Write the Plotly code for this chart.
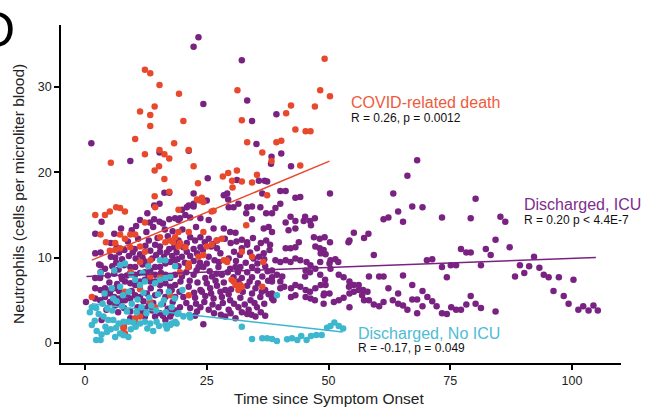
import plotly.graph_objects as go

# Neutrophil counts (cells per microliter blood) vs. days since symptom onset
death_pts = [
    (12.3, 32.0), (13.4, 31.6), (15.3, 30.2), (19.3, 29.2), (14.3, 27.7), (11.3, 27.1), (13.4, 26.7),
    (13.4, 25.4), (20.2, 26.0), (10.3, 23.9), (18.3, 23.4), (15.3, 22.6), (16.3, 22.1), (17.3, 21.6),
    (21.3, 22.6), (12.3, 22.1), (5.3, 21.1), (49.2, 33.3), (31.3, 29.6), (48.3, 29.6), (50.3, 28.9),
    (42.3, 27.8), (41.3, 26.9), (47.2, 27.7), (32.2, 26.1), (43.2, 25.0), (45.3, 24.8), (46.3, 24.8),
    (33.3, 23.5), (39.3, 23.5), (40.3, 23.7), (36.4, 22.3), (38.3, 21.3), (44.2, 20.8), (22.3, 20.7),
    (23.2, 18.7), (28.3, 19.5), (29.4, 19.9), (31.2, 20.2), (30.2, 19.0), (32.2, 18.9), (34.3, 18.8),
    (35.3, 19.7), (23.0, 16.8), (24.0, 17.0), (24.3, 16.5), (19.2, 15.6), (26.4, 15.5), (21.3, 13.0),
    (24.3, 13.0), (33.1, 13.8), (19.2, 11.3), (20.6, 11.2), (25.0, 11.3), (24.3, 10.3), (23.3, 10.1),
    (28.1, 12.2), (28.5, 9.7), (29.2, 9.5), (34.3, 10.1), (19.5, 8.3), (21.3, 9.3), (21.3, 5.6),
    (30.9, 6.8), (31.9, 6.8), (36.4, 6.6), (30.3, 18.2), (37.4, 17.3), (15.2, 20.7), (14.3, 20.2),
    (16.3, 19.2), (17.3, 17.7), (14.3, 17.2), (2.1, 15.0), (4.1, 15.0), (5.1, 15.4), (6.4, 15.9),
    (7.2, 15.8), (8.2, 15.4), (14.4, 15.9), (12.3, 14.1), (3.2, 12.7), (7.2, 12.7), (9.3, 12.7),
    (10.3, 12.7), (8.2, 12.2), (4.3, 11.8), (6.2, 11.7), (5.1, 10.8), (6.2, 10.9), (7.2, 11.1),
    (9.3, 11.2), (11.3, 11.3), (12.3, 10.7), (15.4, 12.4), (16.5, 11.8), (17.5, 12.0), (18.5, 12.4),
    (19.2, 13.0), (11.3, 9.5), (13.4, 9.7), (9.4, 8.3), (13.4, 7.8), (15.4, 7.8), (1.4, 5.4),
    (8.2, 6.0), (11.3, 6.3), (13.4, 4.8), (14.4, 4.2), (7.9, 1.7), (8.2, 1.1), (17.5, 5.6),
    (10.3, 2.9), (11.3, 3.1), (18.1, 11.8), (19.5, 11.7), (23.6, 16.7), (26.0, 15.4), (30.5, 7.2),
    (32.2, 10.7), (36.6, 9.5), (32.2, 6.6), (29.1, 9.7), (21.2, 8.9), (26.0, 11.5), (27.0, 12.0),
    (30.1, 7.4), (31.5, 6.2), (10.6, 2.3), (7.9, 1.9),
]

icu_pts = [
    (1.3, 23.4), (9.3, 21.3), (15.3, 22.3), (21.3, 22.5), (22.3, 34.7), (23.3, 35.8), (24.3, 28.0),
    (32.2, 33.1), (33.3, 28.4), (34.3, 26.0), (35.2, 23.3), (39.3, 26.8), (38.3, 21.8), (38.2, 21.0),
    (40.3, 22.2), (42.3, 20.7), (50.3, 17.5),
    (14.2, 16.1), (15.3, 16.3), (16.3, 17.6), (17.3, 17.6), (22.3, 17.5), (20.9, 15.9), (22.3, 16.0),
    (25.0, 16.7), (25.2, 19.3), (28.5, 17.3), (29.2, 17.5), (29.4, 16.8), (31.2, 19.1), (33.3, 15.9),
    (34.3, 16.0), (36.0, 15.9), (36.4, 17.5), (35.7, 19.0), (36.9, 19.0), (37.4, 18.9), (40.1, 17.8),
    (41.2, 17.8), (43.2, 17.0), (44.2, 17.1), (40.1, 16.3), (39.1, 15.8), (19.9, 15.6), (21.3, 16.1),
    (22.3, 16.3), (29.5, 15.9), (30.5, 15.9), (31.5, 16.3), (37.2, 15.2), (38.4, 15.2), (33.1, 15.2),
    (0.2, 4.8), (2.1, 12.8), (3.4, 14.2), (2.1, 10.5), (3.2, 10.6), (2.9, 9.2), (2.1, 6.4), (3.2, 6.2),
    (4.1, 5.4), (5.1, 5.8), (2.1, 5.2), (3.1, 5.0), (2.1, 7.6), (3.1, 7.6), (3.2, 9.1), (4.1, 8.7),
    (3.2, 8.3), (5.3, 11.7), (6.2, 10.0),
    (11.3, 14.4), (14.2, 14.5), (15.3, 14.2), (17.3, 14.5), (18.5, 14.6), (19.5, 14.6), (12.8, 15.2),
    (9.6, 13.2), (12.6, 13.0), (16.4, 13.3), (18.0, 13.1), (14.0, 13.6),
    (8.8, 11.9), (10.9, 12.2), (13.1, 12.0), (14.9, 12.3), (17.0, 12.5), (18.9, 11.9),
    (6.5, 11.2), (8.1, 10.9), (11.3, 10.4), (13.4, 10.8), (14.4, 11.5), (15.4, 11.3), (15.4, 10.7),
    (17.3, 11.0), (18.3, 11.2), (12.4, 11.4), (10.2, 11.0),
    (5.3, 10.1), (7.6, 9.8), (9.0, 10.2), (10.4, 9.9), (12.1, 9.6), (13.8, 9.9), (16.2, 10.1),
    (17.9, 10.2), (19.0, 9.8),
    (5.6, 9.0), (6.9, 8.6), (9.3, 8.9), (10.3, 8.9), (11.8, 9.2), (13.4, 8.5), (14.4, 8.9), (15.4, 8.9),
    (16.5, 9.3), (17.5, 9.5), (18.5, 9.7),
    (4.7, 7.9), (6.0, 8.1), (7.5, 7.8), (9.3, 8.2), (10.3, 8.0), (11.3, 8.2), (12.3, 8.3), (14.4, 8.0),
    (16.5, 8.0), (17.5, 7.6), (18.5, 8.0),
    (5.0, 7.1), (6.6, 6.9), (8.2, 7.2), (9.3, 7.0), (10.3, 6.8), (11.3, 7.2), (12.3, 7.4), (13.4, 7.2),
    (14.4, 7.2), (15.4, 6.8), (16.5, 7.0), (17.5, 6.6), (18.5, 6.8),
    (4.1, 6.4), (5.3, 6.2), (6.2, 6.4), (7.0, 6.1), (8.6, 5.7), (9.6, 6.1), (12.7, 5.8), (14.4, 5.6),
    (15.4, 6.0), (16.5, 5.4), (17.8, 6.2), (18.5, 5.4), (10.3, 5.6), (11.3, 5.4), (9.3, 5.2), (13.5, 6.4),
    (5.1, 4.8), (6.2, 4.4), (7.2, 4.6), (8.2, 5.0), (12.0, 4.9), (14.0, 4.7), (16.0, 4.6), (18.0, 4.8),
    (9.3, 3.7), (10.8, 4.2), (12.3, 4.0), (13.8, 3.8), (15.4, 3.5), (17.0, 4.0), (18.6, 3.8), (4.4, 3.9),
    (6.8, 3.6), (3.4, 2.7), (9.3, 2.9), (12.3, 3.1), (14.4, 3.1), (16.5, 2.7), (17.5, 3.1), (8.0, 1.9),
    (6.0, 12.8), (7.4, 13.4), (10.5, 13.7), (13.3, 14.1), (16.0, 14.0), (7.0, 10.6), (9.8, 10.6),
    (11.8, 10.0), (14.6, 10.3), (16.8, 10.6), (6.4, 9.4), (8.0, 9.1), (12.9, 9.1), (8.6, 7.9),
    (13.0, 8.0), (15.6, 8.2), (7.6, 7.5), (6.0, 5.4), (7.0, 5.2), (8.0, 4.1), (11.5, 3.5), (13.1, 4.4),
    (16.0, 3.2), (17.8, 3.5),
    (19.2, 12.0), (21.6, 12.4), (22.6, 12.0), (23.7, 12.4), (25.4, 12.2), (27.1, 12.0), (28.7, 12.2),
    (32.2, 12.1), (33.3, 11.8), (37.2, 12.0),
    (20.2, 11.2), (22.3, 11.0), (23.7, 11.2), (25.9, 11.3), (27.1, 11.1), (32.2, 11.1), (33.3, 11.5),
    (35.3, 11.1),
    (19.9, 10.1), (21.6, 10.2), (25.4, 10.1), (26.6, 9.7), (29.5, 9.9), (34.6, 9.9), (35.7, 10.1),
    (19.2, 9.0), (21.3, 8.9), (23.3, 8.9), (24.3, 8.9), (27.4, 8.9), (29.8, 8.7), (30.9, 8.9), (31.9, 8.9),
    (34.3, 8.9), (37.0, 9.0),
    (19.9, 7.8), (22.3, 8.0), (24.7, 7.6), (26.1, 7.8), (28.1, 8.0), (30.5, 7.7), (32.2, 7.6), (34.3, 7.7),
    (36.4, 7.8), (38.4, 7.7),
    (21.3, 6.6), (23.7, 6.2), (25.7, 6.4), (27.1, 6.7), (28.8, 6.2), (30.0, 6.3), (33.3, 6.7), (35.0, 6.4),
    (37.0, 6.2),
    (20.2, 5.4), (22.6, 5.3), (24.7, 5.5), (26.4, 5.2), (28.1, 5.4), (29.8, 5.0), (31.9, 5.3), (34.0, 5.0),
    (36.0, 5.4), (38.4, 5.2),
    (19.5, 4.2), (21.6, 4.1), (23.7, 4.2), (25.4, 3.9), (27.4, 4.2), (29.5, 3.9), (31.5, 4.2), (33.6, 3.9),
    (35.3, 4.2),
    (22.6, 3.2), (24.3, 2.2), (28.8, 3.1), (30.9, 2.9), (33.3, 3.4), (35.0, 3.1), (37.0, 3.2),
    (20.9, 11.7), (24.6, 11.8), (26.3, 11.6), (29.9, 11.7), (31.1, 11.9), (34.5, 12.3), (36.1, 11.7),
    (38.0, 11.5), (18.8, 10.6), (20.9, 10.7), (23.0, 10.5), (24.2, 10.9), (27.8, 10.5), (30.6, 10.7),
    (31.8, 10.3), (33.9, 10.6), (36.7, 10.5), (37.9, 10.9), (20.5, 9.4), (22.3, 9.6), (23.6, 9.4),
    (25.0, 9.3), (27.5, 9.5), (31.0, 9.6), (33.0, 9.4), (35.4, 9.3), (36.8, 9.8), (20.8, 8.3),
    (22.9, 8.5), (25.6, 8.4), (27.0, 8.1), (29.3, 8.3), (31.4, 8.3), (33.3, 8.3), (35.4, 8.5),
    (37.5, 8.4), (19.6, 7.2), (21.5, 7.3), (23.1, 7.1), (25.0, 7.0), (26.8, 7.3), (28.5, 7.1),
    (31.5, 7.2), (33.8, 7.2), (35.5, 7.0), (37.6, 7.3), (19.4, 6.0), (22.4, 5.9), (24.0, 6.0),
    (25.9, 5.8), (27.8, 6.0), (29.5, 5.7), (32.4, 6.0), (34.3, 5.8), (36.3, 6.0), (37.7, 5.7),
    (20.8, 4.7), (22.8, 4.6), (24.5, 4.8), (26.2, 4.5), (28.3, 4.7), (30.6, 4.6), (32.8, 4.5),
    (34.8, 4.7), (36.8, 4.6), (23.0, 3.7), (26.5, 3.5), (27.9, 3.3), (29.9, 3.5), (32.2, 3.6),
    (34.2, 3.3), (36.1, 3.6),
    (19.2, 14.4), (20.6, 15.0), (21.6, 14.7), (23.7, 14.6), (25.4, 14.4), (34.3, 14.5), (26.4, 13.4),
    (28.5, 13.4), (29.8, 13.0), (30.9, 12.9), (36.7, 13.4), (37.7, 13.6), (38.4, 13.0), (20.0, 13.3),
    (22.8, 13.6),
    (42.2, 14.8), (43.2, 14.3), (44.9, 14.3), (46.2, 14.3), (46.4, 13.8), (41.2, 14.1), (41.8, 13.2),
    (43.2, 13.4), (43.9, 11.8), (47.0, 12.4), (48.2, 12.2), (49.2, 12.4), (50.3, 11.8), (55.2, 12.9),
    (54.3, 12.0), (41.2, 11.1), (42.2, 11.1), (43.2, 11.2), (47.3, 11.3), (48.2, 11.1), (49.0, 10.9),
    (48.4, 10.5), (49.4, 10.4), (39.1, 9.7), (40.1, 9.5), (41.2, 9.7), (42.2, 9.5), (43.2, 9.9),
    (44.2, 9.7), (45.5, 9.5), (46.3, 9.1), (45.3, 8.5), (46.2, 8.3), (47.3, 8.7), (50.4, 9.7),
    (51.4, 9.8), (50.4, 8.7), (38.4, 8.5), (39.4, 8.0), (40.5, 7.8), (38.4, 7.2), (40.1, 7.2),
    (40.9, 6.6), (40.1, 6.4), (38.4, 5.8), (42.3, 6.4), (43.2, 6.8), (44.2, 6.6), (45.3, 6.2),
    (46.2, 6.0), (47.3, 6.4), (42.3, 5.4), (43.2, 5.6), (45.3, 5.4), (46.3, 5.2), (48.4, 6.8),
    (49.4, 6.8), (49.0, 4.6), (51.1, 4.8), (52.1, 5.0), (53.1, 5.3), (54.3, 5.8), (55.2, 6.0),
    (56.2, 6.2), (52.1, 8.0), (53.1, 7.7), (54.3, 7.2), (55.2, 6.8), (54.2, 6.6), (56.2, 6.8),
    (54.3, 4.2), (56.9, 5.6), (58.0, 6.0), (38.7, 5.0), (49.0, 5.6), (45.2, 14.8), (47.2, 14.6),
    (52.0, 9.5), (50.2, 9.3), (54.1, 11.8), (49.1, 5.8), (50.2, 5.8), (47.2, 5.0), (45.2, 7.8),
    (48.3, 8.0), (49.3, 7.4), (48.3, 9.5),
    (68.2, 21.4), (66.2, 19.6), (63.3, 17.5), (64.3, 15.4), (65.3, 14.2), (67.2, 16.0), (69.3, 15.9),
    (61.3, 14.5), (62.3, 14.7), (57.3, 12.3), (58.2, 12.8), (59.3, 10.3), (58.3, 7.8), (60.4, 7.8),
    (61.3, 7.8), (65.3, 7.9), (62.3, 6.4), (64.3, 5.8), (67.2, 6.8), (57.1, 6.2), (57.3, 5.0),
    (58.3, 5.0), (59.3, 4.5), (60.4, 4.3), (61.3, 4.8), (63.2, 5.0), (64.3, 4.6), (65.3, 4.4),
    (66.2, 3.9), (67.2, 5.1), (68.2, 5.1), (68.2, 3.5), (69.3, 6.1), (69.3, 4.3), (70.3, 5.4),
    (71.3, 4.9), (72.2, 4.3), (73.3, 3.5), (74.3, 3.4), (74.3, 7.7), (73.3, 8.9), (73.3, 14.7),
    (70.2, 9.7), (71.3, 9.8), (75.1, 9.1), (76.2, 9.1), (75.2, 4.2), (76.2, 3.9), (77.2, 3.9),
    (78.3, 4.5), (79.2, 5.5), (80.2, 4.6), (81.3, 4.1), (84.3, 3.7), (77.2, 11.0), (78.3, 10.6),
    (79.2, 10.6), (80.2, 16.9), (79.2, 14.6), (81.3, 9.1), (82.3, 11.0), (83.3, 10.3), (84.3, 12.1),
    (85.3, 14.8), (86.3, 14.2), (87.2, 11.2), (88.3, 7.8), (89.3, 9.1), (90.2, 8.2), (91.2, 9.0),
    (92.2, 10.1), (93.3, 8.8), (94.2, 8.0), (95.2, 7.7), (96.2, 6.1), (97.3, 7.7), (98.3, 5.5),
    (99.3, 4.6), (100.3, 7.4), (101.3, 3.9), (102.3, 4.3), (103.4, 3.8), (104.4, 4.4), (105.3, 3.8),
]

no_icu_pts = [
    (2.3, 0.35), (3.2, 0.35), (1.4, 4.2), (2.3, 4.1), (1.4, 2.1), (2.4, 1.4), (4.5, 1.3), (3.2, 8.2),
    (5.5, 6.4), (7.2, 6.6), (7.2, 9.1), (8.2, 9.3), (15.4, 9.7), (16.5, 9.7), (11.3, 6.8), (12.3, 7.2),
    (10.3, 7.4), (15.4, 7.4), (16.5, 7.6), (17.5, 7.8), (14.4, 7.0),
    (3.8, 3.1), (4.8, 2.7), (5.8, 2.7), (6.9, 2.3), (7.9, 2.5), (8.9, 2.5), (9.9, 2.4), (11.3, 2.3),
    (12.3, 2.5), (13.4, 2.3), (14.7, 2.5), (16.5, 2.1), (17.5, 2.1), (18.5, 2.5),
    (7.9, 0.9), (8.9, 0.7), (6.2, 0.7), (7.2, 1.1),
    (1.0, 3.6), (2.8, 3.4), (3.6, 4.6), (4.6, 4.0), (5.6, 3.8), (6.5, 4.9), (7.6, 4.3), (8.6, 3.7),
    (9.6, 4.6), (10.6, 3.6), (11.6, 4.2), (12.6, 3.5), (13.6, 4.4), (14.6, 3.8), (15.6, 4.5), (16.6, 3.6),
    (17.8, 4.2), (19.0, 3.4), (20.2, 3.1), (21.4, 3.3),
    (4.0, 5.8), (5.8, 5.2), (7.8, 5.6), (9.0, 6.0), (10.8, 5.1), (12.0, 5.9), (13.2, 5.3), (15.0, 5.7),
    (16.2, 5.0), (17.2, 6.0), (18.4, 5.2), (20.0, 6.2),
    (2.0, 2.6), (4.2, 1.9), (5.3, 1.6), (6.4, 1.8), (9.4, 1.6), (10.4, 1.9), (12.8, 1.7), (14.0, 1.4),
    (15.2, 2.0), (3.4, 1.0), (16.8, 1.7), (17.8, 2.3), (18.8, 2.3), (19.2, 3.5), (21.6, 3.0),
    (6.0, 8.5), (9.5, 8.0), (13.0, 9.0), (18.5, 9.0), (11.8, 8.2),
    (32.2, 1.9), (34.3, 0.47), (36.4, 0.55), (37.4, 0.55), (38.4, 0.47), (39.4, 0.23), (41.5, 0.43),
    (42.5, 0.55), (43.6, 0.35), (44.4, 0.82), (45.5, 0.35), (46.4, 0.82), (47.5, 0.94), (48.6, 0.94),
    (49.7, 1.8), (50.4, 2.0), (51.2, 2.4), (52.1, 2.0), (53.0, 1.7), (39.4, 5.6),
]

# Linear trend endpoints per outcome group
death_fit_x, death_fit_y = [1.4, 50.2], [9.7, 21.3]
icu_fit_x, icu_fit_y = [0.3, 104.9], [7.8, 10.0]
no_icu_fit_x, no_icu_fit_y = [1.4, 52.9], [4.6, 1.3]

x_ticks = [0, 25, 50, 75, 100]
y_ticks = [0, 10, 20, 30]

RED = "#E8482C"
PURPLE = "#7A2282"
CYAN = "#3DB7CE"
FONT = "Liberation Sans, Arial, sans-serif"
TEXT = "#222222"

fig = go.Figure()


def add_points(pts, color, name):
    xs = [p[0] for p in pts]
    ys = [p[1] for p in pts]
    fig.add_trace(go.Scatter(x=xs, y=ys, mode="markers", name=name,
                             marker=dict(size=6.5, color=color, line=dict(width=0)),
                             showlegend=False, hoverinfo="x+y"))


add_points(icu_pts, PURPLE, "Discharged, ICU")
add_points(death_pts, RED, "COVID-related death")
add_points(no_icu_pts, CYAN, "Discharged, No ICU")

for fx, fy, c in [(death_fit_x, death_fit_y, RED),
                  (icu_fit_x, icu_fit_y, PURPLE),
                  (no_icu_fit_x, no_icu_fit_y, CYAN)]:
    fig.add_trace(go.Scatter(x=fx, y=fy, mode="lines", line=dict(color=c, width=1.5),
                             showlegend=False, hoverinfo="skip"))

labels = [
    (54.2, 28.2, "COVID-related death", "#EE5A3D", 16),
    (54.2, 26.3, "R = 0.26, p = 0.0012", "#111111", 12),
    (89.7, 16.2, "Discharged, ICU", "#7E2C8C", 16),
    (89.7, 14.4, "R = 0.20 p < 4.4E-7", "#111111", 12),
    (55.7, 1.15, "Discharged, No ICU", "#4DBCD4", 16),
    (55.7, -0.6, "R = -0.17, p = 0.049", "#111111", 12),
]
annotations = []
for x, y, t, c, s in labels:
    annotations.append(dict(x=x, y=y, xref="x", yref="y", text=t, showarrow=False,
                            xanchor="left", yanchor="middle",
                            font=dict(family=FONT, size=s, color=c)))

# axis titles
annotations.append(dict(x=0.4786, y=-0.1065, xref="paper", yref="paper",
                        text="Time since Symptom Onset", showarrow=False,
                        xanchor="center", yanchor="middle",
                        font=dict(family=FONT, size=15.5, color=TEXT)))
annotations.append(dict(x=-0.077, y=0.5, xref="paper", yref="paper",
                        text="Neutrophils (cells per microliter blood)", showarrow=False,
                        textangle=-90, xanchor="center", yanchor="middle",
                        font=dict(family=FONT, size=15.5, color=TEXT)))

# panel letter
annotations.append(dict(x=-0.079, y=0.985, xref="paper", yref="paper", text="D",
                        showarrow=False, xanchor="right", yanchor="middle",
                        font=dict(family=FONT, size=50, color="#000000")))

axis_common = dict(showgrid=False, zeroline=False, showline=True, linecolor="black", linewidth=1.5,
                   ticks="outside", ticklen=5, tickwidth=1.5, tickcolor="black", automargin=False,
                   tickfont=dict(family=FONT, size=12.5, color=TEXT))

fig.update_layout(
    width=650, height=412,
    margin=dict(l=61, r=29, t=25, b=49),
    paper_bgcolor="white", plot_bgcolor="white",
    font=dict(family=FONT, color=TEXT),
    annotations=annotations,
    xaxis=dict(range=[-4.93, 110.06], tickvals=x_ticks, ticktext=[str(v) for v in x_ticks],
               **axis_common),
    yaxis=dict(range=[-2.34, 37.24], tickvals=y_ticks, ticktext=[str(v) for v in y_ticks],
               **axis_common),
)

fig.write_html("out.html")
